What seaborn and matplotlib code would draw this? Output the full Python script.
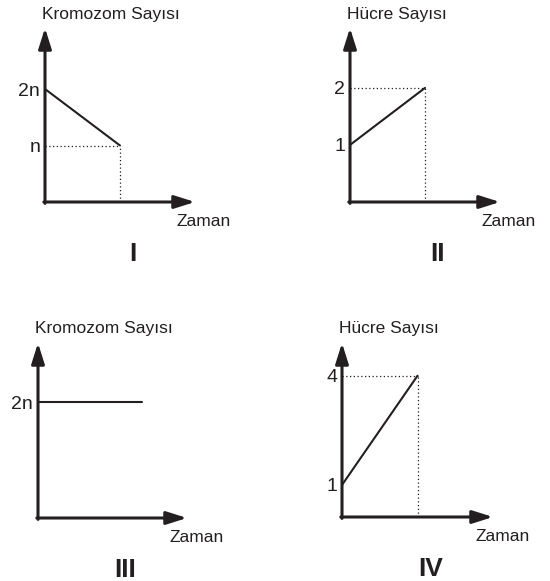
import numpy as np
import pandas as pd
import seaborn as sb
import matplotlib.pyplot as plt

# panel data (x = zaman, y = value)
zaman_1 = [0, 1]
kromozom_1 = [2, 1]
ticks_1 = [2, 1]
ticklabels_1 = ['2n', 'n']

zaman_2 = [0, 1]
hucre_2 = [1, 2]
ticks_2 = [2, 1]
ticklabels_2 = ['2', '1']

zaman_3 = [0, 1.4]
kromozom_3 = [2, 2]
ticks_3 = [2]
ticklabels_3 = ['2n']

zaman_4 = [0, 1]
hucre_4 = [1, 4]
ticks_4 = [4, 1]
ticklabels_4 = ['4', '1']

ylabels = ['Kromozom Sayısı', 'Hücre Sayısı', 'Kromozom Sayısı', 'Hücre Sayısı']
numerals = ['I', 'II', 'III', 'IV']

INK = '#231f20'
W, H = 550, 581

sb.set_style('white')
plt.rcParams['font.family'] = ['Liberation Sans', 'DejaVu Sans']

fig = plt.figure(figsize=(W / 100, H / 100), dpi=100)


def px_axes(left, top, right, bottom):
    return fig.add_axes([left / W, (H - bottom) / H, (right - left) / W, (bottom - top) / H])


panels = [
    dict(box=(45, 28, 195, 202), x=zaman_1, y=kromozom_1, ticks=ticks_1, tl=ticklabels_1,
         ylim=(0, 3.08), guide=True),
    dict(box=(350, 28, 500, 202), x=zaman_2, y=hucre_2, ticks=ticks_2, tl=ticklabels_2,
         ylim=(0, 3.05), guide=True),
    dict(box=(38, 343, 187, 518), x=zaman_3, y=kromozom_3, ticks=ticks_3, tl=ticklabels_3,
         ylim=(0, 3.02), guide=False),
    dict(box=(342, 343, 493, 517), x=zaman_4, y=hucre_4, ticks=ticks_4, tl=ticklabels_4,
         ylim=(0.12, 4.9), guide=True),
]

for i, p in enumerate(panels):
    left, top, right, bottom = p['box']
    w, h = right - left, bottom - top
    ax = px_axes(left, top, right, bottom)
    ax.set_xlim(0, 2)
    ax.set_ylim(*p['ylim'])
    df = pd.DataFrame({'zaman': p['x'], 'deger': p['y']})
    sb.lineplot(data=df, x='zaman', y='deger', ax=ax, color=INK, lw=1.5, clip_on=False)
    if p['guide']:
        xe, ye = p['x'][-1], p['y'][-1]
        ax.hlines(ye, 0, xe, colors=INK, lw=0.9, linestyles=(0, (1, 2)), clip_on=False)
        ax.vlines(xe, p['ylim'][0], ye, colors=INK, lw=0.9, linestyles=(0, (1, 2)), clip_on=False)
    for s in ax.spines.values():
        s.set_visible(False)
    arrow = dict(arrowstyle='-|>,head_length=0.95,head_width=0.3', lw=2.2, color=INK,
                 shrinkA=0, shrinkB=0, mutation_scale=13)
    ax.annotate('', xy=(0, 1), xytext=(0, -0.008), xycoords='axes fraction', arrowprops=arrow)
    ax.annotate('', xy=(1, 0), xytext=(-0.008, 0), xycoords='axes fraction', arrowprops=arrow)
    ax.set_xticks([])
    ax.set_yticks(p['ticks'])
    ax.set_yticklabels(p['tl'], fontsize=14, color=INK)
    ax.tick_params(axis='y', length=0, pad=3.5)
    ax.set_xlabel('')
    ax.set_ylabel('')
    ax.text(-3 / w, 1 + 9.5 / h, ylabels[i], transform=ax.transAxes,
            ha='left', va='baseline', fontsize=12.5, color=INK)
    ax.text(1 - 18 / w, -24 / h, 'Zaman', transform=ax.transAxes,
            ha='left', va='baseline', fontsize=12.5, color=INK)
    ax.text(0.5 + 13 / w, -59 / h, numerals[i], transform=ax.transAxes,
            ha='center', va='baseline', fontsize=19, fontweight='bold', color=INK)

plt.savefig('out.png', dpi=100)
